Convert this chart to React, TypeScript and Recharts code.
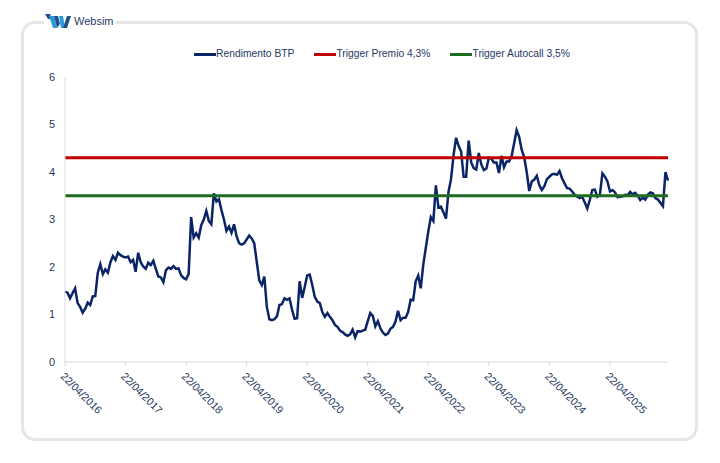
import React from "react";
import { LineChart, Line, XAxis, YAxis, Legend } from "recharts";

// rendimento BTP, mezzo mese per punto (24 valori per anno, dal 22/04)
const btp2016 = [1.48, 1.46, 1.34, 1.45, 1.55, 1.24, 1.16, 1.04, 1.12, 1.25, 1.2, 1.38, 1.39, 1.88, 2.06, 1.85, 1.95, 1.88, 2.1, 2.23, 2.15, 2.3, 2.25, 2.22];
const btp2017 = [2.2, 2.22, 2.1, 2.15, 1.9, 2.3, 2.1, 2.01, 1.96, 2.09, 2.04, 2.13, 1.96, 1.8, 1.78, 1.68, 1.93, 1.99, 1.96, 2.02, 1.96, 1.97, 1.83, 1.77];
const btp2018 = [1.74, 1.85, 3.05, 2.62, 2.71, 2.62, 2.88, 3.0, 3.18, 2.97, 2.9, 3.55, 3.38, 3.43, 3.2, 3.0, 2.76, 2.85, 2.72, 2.9, 2.65, 2.5, 2.47, 2.5];
const btp2019 = [2.58, 2.66, 2.6, 2.5, 2.11, 1.72, 1.62, 1.8, 1.16, 0.9, 0.88, 0.9, 0.96, 1.2, 1.22, 1.34, 1.31, 1.34, 1.1, 0.91, 0.92, 1.7, 1.35, 1.58];
const btp2020 = [1.82, 1.84, 1.62, 1.37, 1.27, 1.24, 1.05, 0.95, 1.03, 0.95, 0.88, 0.78, 0.74, 0.66, 0.63, 0.58, 0.55, 0.58, 0.68, 0.52, 0.65, 0.64, 0.66, 0.68];
const btp2021 = [0.86, 1.03, 0.97, 0.75, 0.86, 0.71, 0.62, 0.57, 0.6, 0.7, 0.74, 0.85, 1.08, 0.88, 0.93, 0.93, 1.05, 1.31, 1.3, 1.7, 1.82, 1.55, 2.05, 2.4];
const btp2022 = [2.75, 3.05, 2.97, 3.72, 3.25, 3.27, 3.15, 3.02, 3.58, 3.85, 4.35, 4.72, 4.55, 4.43, 3.9, 3.9, 4.66, 4.2, 4.08, 4.05, 4.4, 4.16, 4.04, 4.07];
const btp2023 = [4.3, 4.28, 4.2, 4.2, 3.98, 4.34, 4.1, 4.22, 4.22, 4.33, 4.6, 4.88, 4.74, 4.47, 4.31, 4.0, 3.6, 3.8, 3.84, 3.92, 3.72, 3.62, 3.7, 3.85];
const btp2024 = [3.9, 3.95, 3.96, 3.94, 4.02, 3.87, 3.76, 3.66, 3.65, 3.59, 3.52, 3.48, 3.45, 3.48, 3.36, 3.23, 3.41, 3.62, 3.63, 3.48, 3.52, 3.97, 3.9, 3.8];
const btp2025 = [3.59, 3.62, 3.57, 3.47, 3.48, 3.49, 3.52, 3.51, 3.58, 3.53, 3.56, 3.5, 3.41, 3.46, 3.42, 3.52, 3.57, 3.55, 3.45, 3.42, 3.35, 3.28, 4.0, 3.82];

const triggerPremio = 4.3;
const triggerAutocall = 3.5;

const tickLabels = [
  "22/04/2016", "22/04/2017", "22/04/2018", "22/04/2019", "22/04/2020",
  "22/04/2021", "22/04/2022", "22/04/2023", "22/04/2024", "22/04/2025",
];
const yTicks = [0, 1, 2, 3, 4, 5, 6];
const legendOrder = ["Rendimento BTP", "Trigger Premio 4,3%", "Trigger Autocall 3,5%"];

const NAVY = "#0b2466";
const TEXT = "#1f3864";

const parseDate = (s: string) => {
  const [d, m, y] = s.split("/").map(Number);
  return Date.UTC(y, m - 1, d);
};

const fmtDate = (t: number) => {
  const d = new Date(t);
  const dd = String(d.getUTCDate()).padStart(2, "0");
  const mm = String(d.getUTCMonth() + 1).padStart(2, "0");
  return `${dd}/${mm}/${d.getUTCFullYear()}`;
};

const start = parseDate(tickLabels[0]);
const step = (365.25 / 24) * 86400000;
const btp = [...btp2016, ...btp2017, ...btp2018, ...btp2019, ...btp2020, ...btp2021, ...btp2022, ...btp2023, ...btp2024, ...btp2025];

const data = btp.map((v, i) => ({
  date: start + i * step,
  btp: v,
  premio: triggerPremio,
  autocall: triggerAutocall,
}));

const xTicks = tickLabels.map(parseDate);

const DateTick = (props: any) => {
  const { x, y, payload } = props;
  const ax = x - 5;
  const ay = y + 9;
  return (
    <text x={ax} y={ay} transform={`rotate(45, ${ax}, ${ay})`} fill={TEXT} fontSize={10.6} textAnchor="start">
      {fmtDate(payload.value)}
    </text>
  );
};

const renderLegend = (props: any) => {
  const items = [...(props.payload || [])].sort(
    (a: any, b: any) => legendOrder.indexOf(a.value) - legendOrder.indexOf(b.value)
  );
  return (
    <div style={{ display: "flex", justifyContent: "center", alignItems: "center", fontSize: 10.3, lineHeight: "14px", color: TEXT }}>
      {items.map((entry: any, i: number) => (
        <div key={i} style={{ display: "flex", alignItems: "center", marginLeft: i ? 20 : 0 }}>
          <span style={{ display: "inline-block", width: 22, height: 3, background: entry.color }} />
          <span>{entry.value}</span>
        </div>
      ))}
    </div>
  );
};

const Logo = () => (
  <div
    style={{
      position: "absolute",
      left: 44,
      top: 12,
      width: 72,
      height: 18,
      background: "#fff",
      display: "flex",
      alignItems: "center",
    }}
  >
    <svg width={28} height={16} viewBox="0 0 28 16">
      <polygon points="1,1 6,1 8,6 4,6" fill="#1f4e8c" />
      <polygon points="5,3 10,3 13,15 9,15" fill="#2b9bd8" />
      <polygon points="10,3 14,3 16,11 13,15" fill="#1f4e8c" />
      <polygon points="15,3 19,3 21,15 17,15" fill="#2b9bd8" />
      <polygon points="19,15 23,3 27,3 23,15" fill="#1f4e8c" />
    </svg>
    <span style={{ fontSize: 11, color: "#1f3a6b", marginLeft: 2 }}>Websim</span>
  </div>
);

export default function App() {
  return (
    <div
      style={{
        position: "absolute",
        left: 0,
        top: 0,
        width: 720,
        height: 463,
        background: "#fff",
        fontFamily: "'Liberation Sans', Arial, sans-serif",
      }}
    >
      <div
        style={{
          position: "absolute",
          left: 21,
          top: 21,
          width: 677,
          height: 420,
          boxSizing: "border-box",
          border: "3px solid #e6e6e6",
          borderRadius: 14,
        }}
      />
      <Logo />
      <div style={{ position: "absolute", left: 0, top: 0 }}>
        <LineChart width={720} height={463} data={data} margin={{ top: 63, right: 52, bottom: 41, left: 25 }}>
          <XAxis
            dataKey="date"
            type="number"
            scale="time"
            domain={["dataMin", "dataMax"]}
            ticks={xTicks}
            tick={<DateTick />}
            tickSize={4}
            height={60}
            stroke="#d9d9d9"
            interval={0}
          />
          <YAxis
            domain={[0, 6]}
            ticks={yTicks}
            width={40}
            tickLine={false}
            stroke="#d9d9d9"
            tick={{ fill: TEXT, fontSize: 11 }}
            tickMargin={4}
          />
          <Legend
            verticalAlign="top"
            align="center"
            content={renderLegend}
            wrapperStyle={{ top: 47, left: 0, width: 764 }}
          />
          <Line
            dataKey="btp"
            name="Rendimento BTP"
            stroke={NAVY}
            strokeWidth={2.5}
            dot={false}
            isAnimationActive={false}
          />
          <Line
            dataKey="premio"
            name="Trigger Premio 4,3%"
            stroke="#c00000"
            strokeWidth={3}
            dot={false}
            isAnimationActive={false}
          />
          <Line
            dataKey="autocall"
            name="Trigger Autocall 3,5%"
            stroke="#1e6b22"
            strokeWidth={3}
            dot={false}
            isAnimationActive={false}
          />
        </LineChart>
      </div>
    </div>
  );
}
